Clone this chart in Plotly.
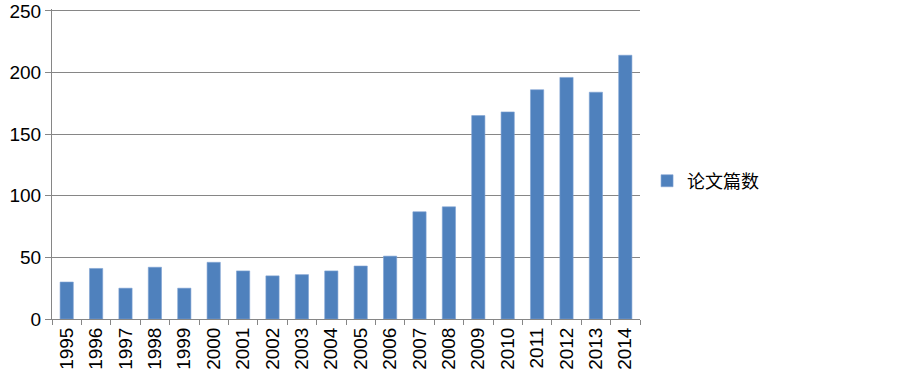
import plotly.graph_objects as go

years = [str(y) for y in range(1995, 2015)]
papers = [30, 41, 25, 42, 25, 46, 39, 35, 36, 39, 43, 51, 87, 91, 165, 168, 186, 196, 184, 214]
series_name = "论文篇数"
y_ticks = [0, 50, 100, 150, 200, 250]

fig = go.Figure()
fig.add_trace(go.Bar(
    x=years, y=papers, name=series_name,
    marker=dict(color="#4F81BD", line=dict(color="#7FA3D3", width=0.6)),
    showlegend=True,
))

axis_font = dict(family="Liberation Sans, sans-serif", size=19, color="#000000")

fig.update_layout(
    width=903, height=370,
    margin=dict(l=52, r=263, t=9, b=51),
    plot_bgcolor="white", paper_bgcolor="white",
    bargap=0.55,
    showlegend=True,
    legend=dict(x=1.012, y=0.445, xanchor="left", yanchor="middle",
                font=dict(family="Noto Sans CJK SC, sans-serif", size=18, color="#000000"),
                itemwidth=30),
    xaxis=dict(
        type="category", tickangle=-90, tickfont=axis_font, automargin=False,
        showline=True, linecolor="#868686", linewidth=1,
        ticks="outside", ticklen=5, tickcolor="#868686", tickson="boundaries",
        showgrid=False,
    ),
    yaxis=dict(
        range=[0, 251.5], tickvals=y_ticks, tickfont=axis_font, automargin=False,
        showline=True, linecolor="#868686", linewidth=1,
        ticks="outside", ticklen=6, tickcolor="#868686",
        showgrid=True, gridcolor="#868686", gridwidth=1,
        zeroline=False,
    ),
)

fig.write_html("out.html", config={"displayModeBar": False},
               post_script="document.body.style.margin='0';")
